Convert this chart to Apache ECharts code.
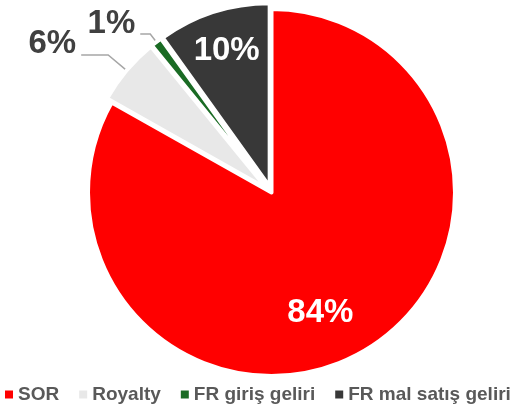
<!DOCTYPE html>
<html>
<head>
<meta charset="utf-8">
<script src="https://cdn.jsdelivr.net/npm/echarts@6/dist/echarts.min.js"></script>
<style>
  html, body { margin: 0; padding: 0; background: #fff; }
  #chart { width: 524px; height: 408px; }
</style>
</head>
<body>
<div id="chart"></div>
<script>
// data
var categories = ['SOR', 'Royalty', 'FR giriş geliri', 'FR mal satış geliri'];
var values = [84, 6, 1, 10];
var colors = ['#FF0000', '#E8E8E8', '#1A6B24', '#383838'];

// small slices are pulled out, SOR stays in place
var lineLen = { 1: [24, 27], 2: [10, 10] };     // labelLine length / length2
var labelShift = { 0: [1, 39], 1: [0, -11], 2: [0, -10], 3: [-14, -46] };

var chart = echarts.init(document.getElementById('chart'));

var pieData = categories.map(function (name, i) {
  var item = {
    name: name,
    value: values[i],
    selected: i > 0,
    itemStyle: { color: colors[i] }
  };
  if (lineLen[i]) {
    item.label = { position: 'outside', color: '#404040' };
    item.labelLine = { show: true, length: lineLen[i][0], length2: lineLen[i][1] };
  } else {
    item.label = { position: 'inside', color: '#fff' };
    item.labelLine = { show: false };
  }
  return item;
});

var option = {
  animation: false,
  legend: {
    data: categories,
    left: 0,
    top: 380,
    icon: 'rect',
    itemWidth: 8,
    itemHeight: 8,
    itemGap: 20,
    selectedMode: false,
    itemStyle: { borderWidth: 0 },
    textStyle: {
      fontFamily: 'Liberation Sans',
      fontWeight: 'bold',
      fontSize: 19,
      color: '#595959'
    }
  },
  series: [{
    type: 'pie',
    center: [271.5, 192.5],
    radius: 183.5,
    startAngle: 90,
    clockwise: true,
    avoidLabelOverlap: false,
    selectedMode: 'multiple',
    selectedOffset: 6,
    itemStyle: { borderColor: '#fff', borderWidth: 4 },
    select: { itemStyle: { borderColor: '#fff', borderWidth: 4 } },
    emphasis: { disabled: true },
    label: {
      show: true,
      formatter: '{c}%',
      fontFamily: 'Liberation Sans',
      fontWeight: 'bold',
      fontSize: 33
    },
    labelLine: { lineStyle: { color: '#A6A6A6', width: 1.5 } },
    labelLayout: function (p) {
      var s = labelShift[p.dataIndex];
      var out = { dx: s[0], dy: s[1] };
      if (p.labelLinePoints) out.labelLinePoints = p.labelLinePoints;
      return out;
    },
    data: pieData
  }]
};

chart.setOption(option);
</script>
</body>
</html>
